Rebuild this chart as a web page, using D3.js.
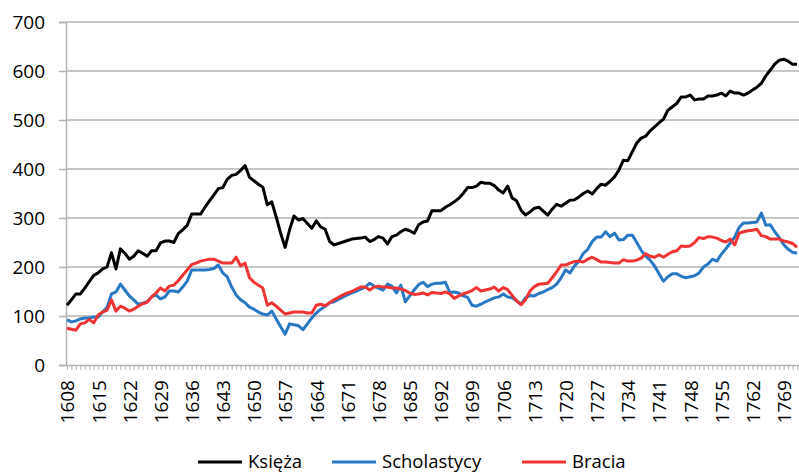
<!DOCTYPE html>
<html>
<head>
<meta charset="utf-8">
<script src="https://cdn.jsdelivr.net/npm/d3@7"></script>
<style>
  html, body { margin: 0; padding: 0; background: #fff; }
  svg { display: block; font-family: "Open Sans", sans-serif; }
</style>
</head>
<body>
<svg id="chart" width="799" height="473"></svg>
<script>
// ---- Data ----
const firstYear = 1608;
const lastYear = 1772;
const years = d3.range(firstYear, lastYear + 1);

const tickLabels = [1608, 1615, 1622, 1629, 1636, 1643, 1650, 1657, 1664, 1671, 1678, 1685,
  1692, 1699, 1706, 1713, 1720, 1727, 1734, 1741, 1748, 1755, 1762, 1769];

const yTicks = [0, 100, 200, 300, 400, 500, 600, 700];

const seriesNames = ["Księża", "Scholastycy", "Bracia"];

const ksieza = [
  122, 133, 145, 145, 157, 170, 183, 188, 196, 200,   // 1608-1617
  229, 196, 237, 228, 216, 222, 233, 228, 222, 233,   // 1618-1627
  233, 249, 253, 253, 250, 268, 276, 285, 308, 308,   // 1628-1637
  308, 322, 335, 347, 360, 362, 379, 387, 389, 397,   // 1638-1647
  407, 383, 376, 369, 363, 327, 333, 302, 269, 240,   // 1648-1657
  276, 304, 296, 299, 289, 279, 294, 282, 277, 252,   // 1658-1667
  245, 248, 251, 254, 257, 258, 259, 261, 252, 256,   // 1668-1677
  262, 259, 247, 262, 265, 272, 277, 274, 269, 286,   // 1678-1687
  292, 294, 315, 315, 315, 322, 327, 333, 340, 350,   // 1688-1697
  362, 362, 365, 373, 371, 371, 366, 357, 351, 365,   // 1698-1707
  341, 335, 316, 306, 312, 320, 322, 314, 306, 318,   // 1708-1717
  328, 324, 330, 336, 337, 343, 350, 355, 349, 360,   // 1718-1727
  369, 367, 375, 384, 398, 418, 417, 435, 453, 463,   // 1728-1737
  467, 478, 486, 494, 502, 520, 527, 534, 547, 547,   // 1738-1747
  551, 541, 543, 543, 549, 549, 551, 555, 549, 559,   // 1748-1757
  555, 555, 551, 555, 561, 567, 575, 590, 602, 614,   // 1758-1767
  622, 624, 620, 614, 614                             // 1768-1772
];

const scholastycy = [
  92, 88, 90, 94, 96, 96, 98, 98, 108, 118,           // 1608-1617
  145, 149, 165, 153, 141, 133, 124, 126, 129, 139,   // 1618-1627
  143, 135, 139, 151, 151, 149, 159, 171, 194, 194,   // 1628-1637
  194, 194, 195, 197, 204, 188, 180, 159, 143, 133,   // 1638-1647
  127, 118, 114, 108, 104, 102, 110, 94, 78, 63,      // 1648-1657
  84, 82, 80, 72, 84, 96, 106, 114, 120, 127,         // 1658-1667
  129, 134, 139, 143, 147, 151, 155, 159, 167, 161,   // 1668-1677
  157, 153, 165, 161, 147, 163, 129, 141, 153, 164,   // 1678-1687
  169, 160, 165, 167, 167, 169, 148, 149, 147, 141,   // 1688-1697
  138, 122, 120, 124, 129, 133, 137, 139, 145, 139,   // 1698-1707
  137, 131, 124, 137, 142, 141, 146, 149, 154, 158,   // 1708-1717
  165, 178, 194, 188, 202, 212, 228, 236, 252, 261,   // 1718-1727
  261, 272, 262, 269, 255, 256, 265, 265, 250, 234,   // 1728-1737
  222, 214, 202, 186, 171, 180, 186, 186, 181, 178,   // 1738-1747
  180, 182, 188, 200, 206, 216, 212, 226, 237, 249,   // 1748-1757
  261, 281, 290, 290, 291, 292, 310, 285, 286, 272,   // 1758-1767
  260, 246, 236, 230, 228                             // 1768-1772
];

const bracia = [
  75, 73, 71, 84, 86, 93, 86, 102, 108, 112,          // 1608-1617
  133, 110, 120, 116, 110, 114, 120, 125, 128, 139,   // 1618-1627
  147, 157, 151, 161, 163, 172, 183, 194, 205, 208,   // 1628-1637
  212, 214, 216, 216, 212, 208, 208, 208, 220, 202,   // 1638-1647
  208, 178, 169, 163, 157, 122, 127, 120, 112, 104,   // 1648-1657
  106, 108, 108, 108, 106, 106, 122, 124, 121, 127,   // 1658-1667
  133, 138, 143, 147, 150, 155, 159, 159, 153, 159,   // 1668-1677
  161, 159, 159, 157, 157, 155, 152, 147, 144, 145,   // 1678-1687
  147, 143, 148, 147, 146, 149, 145, 136, 141, 145,   // 1688-1697
  148, 152, 158, 151, 153, 155, 159, 151, 158, 154,   // 1698-1707
  142, 131, 123, 133, 151, 160, 165, 166, 167, 178,   // 1708-1717
  190, 204, 204, 208, 211, 212, 210, 216, 220, 215,   // 1718-1727
  210, 210, 209, 208, 208, 215, 212, 212, 214, 218,   // 1728-1737
  227, 222, 220, 225, 220, 226, 231, 233, 243, 242,   // 1738-1747
  243, 250, 260, 258, 262, 261, 259, 254, 251, 257,   // 1748-1757
  245, 269, 272, 274, 275, 277, 264, 262, 257, 257,   // 1758-1767
  257, 253, 251, 248, 240                             // 1768-1772
];

const seriesColors = ["#000000", "#2878c3", "#f03434"];
const seriesData = [ksieza, scholastycy, bracia];

// ---- Layout ----
const svg = d3.select("#chart");
const plotLeft = 66, plotRight = 797, plotTop = 22, plotBottom = 365;

const x = d3.scalePoint().domain(years).range([plotLeft + 1, plotRight]);
const y = d3.scaleLinear().domain([0, 700]).range([plotBottom, plotTop]);

const gridColor = "#b3b3b3";

// gridlines
svg.append("g")
  .selectAll("line")
  .data(yTicks.filter(d => d > 0))
  .join("line")
  .attr("x1", plotLeft).attr("x2", 799)
  .attr("y1", d => y(d)).attr("y2", d => y(d))
  .attr("stroke", gridColor).attr("stroke-width", 1.5);

// y axis
const yAxis = svg.append("g")
  .attr("transform", `translate(${plotLeft},0)`)
  .call(d3.axisLeft(y).tickValues(yTicks).tickSize(7).tickPadding(14).tickFormat(d3.format("d")));
yAxis.select(".domain").attr("stroke", gridColor).attr("stroke-width", 1.5);
yAxis.selectAll(".tick line").attr("stroke", gridColor).attr("stroke-width", 1.5);
yAxis.selectAll("text").attr("font-size", 19).attr("fill", "#000")
  .attr("font-family", "Open Sans, sans-serif");

// x axis
const labelSet = new Set(tickLabels);
const xAxis = svg.append("g")
  .attr("transform", `translate(0,${plotBottom})`)
  .call(d3.axisBottom(x).tickValues(years).tickSize(5).tickSizeOuter(0)
    .tickFormat(d => labelSet.has(d) ? String(d) : ""));
xAxis.select(".domain").attr("stroke", gridColor).attr("stroke-width", 1.5)
  .attr("d", `M${plotLeft},0.5H799`);
xAxis.selectAll(".tick line").attr("stroke", gridColor).attr("stroke-width", 1);
xAxis.selectAll("text")
  .attr("font-size", 19).attr("fill", "#000")
  .attr("font-family", "Open Sans, sans-serif")
  .attr("text-anchor", "end")
  .attr("transform", "rotate(-90)")
  .attr("x", -15).attr("y", 0).attr("dy", "0.36em");

// lines
const line = d3.line()
  .x((d, i) => x(years[i]))
  .y(d => y(d));

svg.append("g")
  .selectAll("path")
  .data(seriesData)
  .join("path")
  .attr("d", d => line(d))
  .attr("fill", "none")
  .attr("stroke", (d, i) => seriesColors[i])
  .attr("stroke-width", 3)
  .attr("stroke-linejoin", "round");

// legend
const legendItems = [
  { x: 198, name: seriesNames[0], color: seriesColors[0] },
  { x: 332, name: seriesNames[1], color: seriesColors[1] },
  { x: 522, name: seriesNames[2], color: seriesColors[2] }
];
const lg = svg.append("g");
legendItems.forEach(it => {
  lg.append("line")
    .attr("x1", it.x).attr("x2", it.x + 44)
    .attr("y1", 462).attr("y2", 462)
    .attr("stroke", it.color).attr("stroke-width", 3);
  lg.append("text")
    .attr("x", it.x + 50).attr("y", 467.5)
    .attr("font-size", 18.5).attr("fill", "#000")
    .text(it.name);
});
</script>
</body>
</html>
